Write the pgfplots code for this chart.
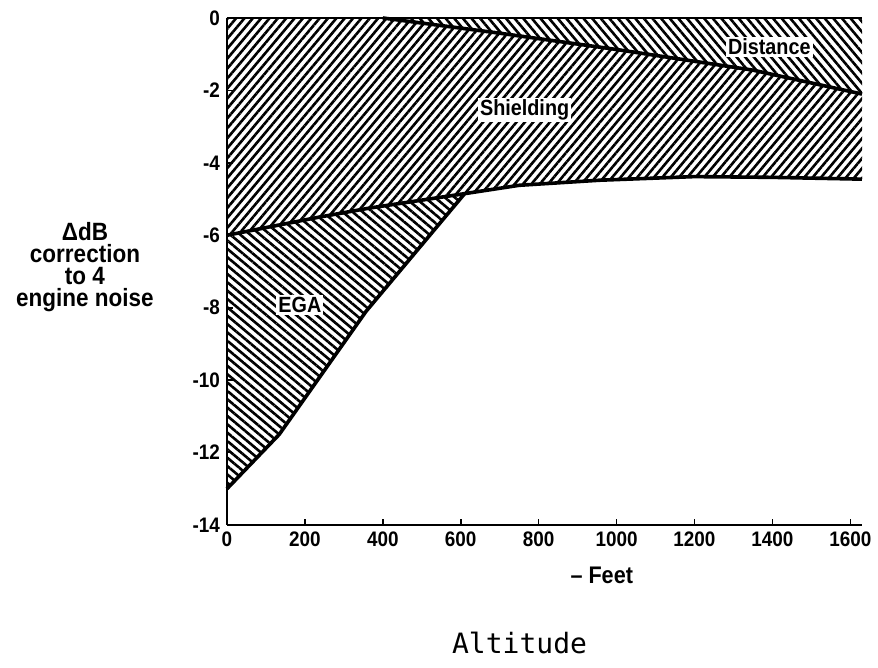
\documentclass[border=0pt]{standalone}
\usepackage{pgfplots}
\pgfplotsset{compat=1.18}
\usetikzlibrary{patterns.meta}
\usepackage{fontspec}
\setmainfont{Liberation Sans}[FakeStretch=0.9]
\newfontfamily\monofont{DejaVu Sans Mono}

\begin{document}
\begin{tikzpicture}
\begin{axis}[
    scale only axis, width=317.5pt, height=253.5pt,
    xmin=0, xmax=1630, ymin=-14, ymax=0,
    axis lines=left, axis line style={-, line width=1.3pt},
    xtick={0,200,...,1600}, ytick={-14,-12,...,0},
    tick align=inside, major tick length=3pt,
    tick style={line width=0.8pt, black},
    ticklabel style={font=\bfseries\fontsize{10.5}{12}\selectfont},
    /pgf/number format/assume math mode=true,
    /pgf/number format/1000 sep={},
    clip=false,
]
    % distance region
    \addplot[draw=none, pattern={Lines[angle=-50, distance=3.3pt, line width=1.3pt]}]
        coordinates {(400,0)(700,-0.42)(1000,-0.87)(1350,-1.44)(1630,-2.1)(1630,0)} -- cycle;
    % shielding region
    \addplot[draw=none, pattern={Lines[angle=50, distance=3.2pt, line width=1.3pt]}]
        coordinates {(0,0)(400,0)(700,-0.42)(1000,-0.87)(1350,-1.44)(1630,-2.1)
        (1630,-4.45)(1400,-4.4)(1200,-4.38)(956,-4.48)(750,-4.62)(610,-4.85)
        (365,-5.25)(236,-5.5)(0,-6)} -- cycle;
    % EGA region
    \addplot[draw=none, pattern={Lines[angle=-40, distance=3.2pt, line width=1.3pt]}]
        coordinates {(0,-6)(236,-5.5)(365,-5.25)(610,-4.85)(357,-8.1)(134,-11.5)(0,-13)} -- cycle;

    % boundaries
    \addplot[black, line width=0.8pt] coordinates {(0,0)(1630,0)};
    \addplot[black, line width=1.8pt] coordinates {(400,0)(700,-0.42)(1000,-0.87)(1350,-1.44)(1630,-2.1)};
    \addplot[black, line width=1.8pt] coordinates {(0,-6)(236,-5.5)(365,-5.25)(610,-4.85)(750,-4.62)(956,-4.48)(1200,-4.38)(1400,-4.4)(1630,-4.45)};
    \addplot[black, line width=1.8pt] coordinates {(0,-13)(134,-11.5)(357,-8.1)(610,-4.85)};

    % region labels
    \node[fill=white, inner sep=1pt, font=\bfseries\fontsize{11}{12}\selectfont] at (axis cs:1392,-0.8) {Distance};
    \node[fill=white, inner sep=1pt, font=\bfseries\fontsize{11}{12}\selectfont] at (axis cs:764,-2.54) {Shielding};
    \node[fill=white, inner sep=1pt, font=\bfseries\fontsize{11}{12}\selectfont] at (axis cs:187,-7.93) {EGA};

    % axis texts
    \node[align=center, font=\bfseries\fontsize{12.5}{11}\selectfont] at (axis cs:0,-6.88) [xshift=-71pt] {ΔdB\\correction\\to 4\\engine noise};
    \node[font=\bfseries\fontsize{12}{13}\selectfont] at (axis cs:962,-14) [yshift=-25pt] {– Feet};
    \node[font=\monofont\fontsize{14}{15}\selectfont] at (axis cs:751,-14) [yshift=-59pt] {Altitude};

    \coordinate (o) at (rel axis cs:0,0);
\end{axis}
\pgfresetboundingbox
\path (o) ++(-113.5pt,-71.5pt) rectangle ++(439pt,334pt);
\end{tikzpicture}
\end{document}
